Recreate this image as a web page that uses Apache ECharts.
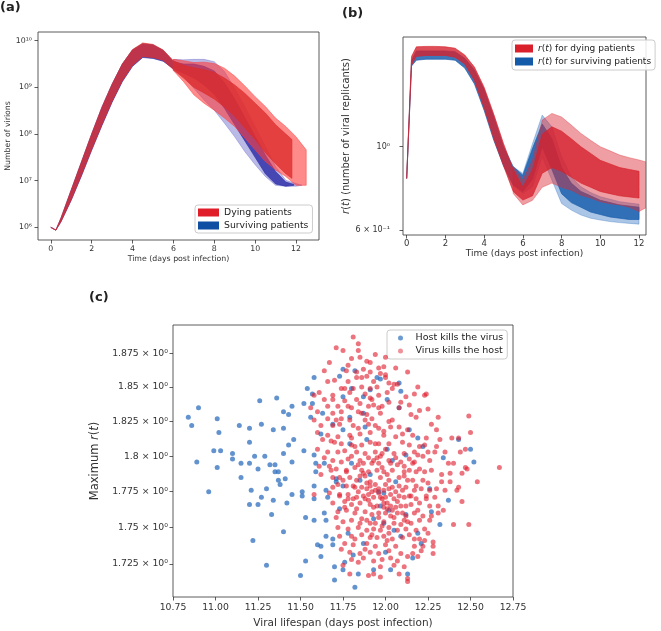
<!DOCTYPE html>
<html>
<head>
<meta charset="utf-8">
<script src="https://cdn.jsdelivr.net/npm/echarts@6/dist/echarts.min.js"></script>
<style>
  html, body { margin: 0; padding: 0; background: #fff; }
  #chart { width: 661px; height: 631px; }
</style>
</head>
<body>
<div id="chart"></div>
<script>
// ---- tick values ----
const dayTicks = [0, 2, 4, 6, 8, 10, 12];
const virionTicks = [1e6, 1e7, 1e8, 1e9, 1e10];
const replicantTicks = [0.6, 1];
const maxRTicks = [1.725, 1.75, 1.775, 1.8, 1.825, 1.85, 1.875];

// ---- panel (a): number of virions, envelopes ----
const aSurvCoreT = [0, 0.25, 0.5, 1, 1.5, 2, 2.5, 3, 3.5, 4, 4.5, 5, 5.5, 6, 6.5, 7, 7.5, 8, 8.5, 9, 9.5, 10, 10.5, 11, 11.5, 11.9];
const aSurvCoreHi = [1.0e6, 8.71e5, 1.58e6, 6.31e6, 2.51e7, 1.0e8, 3.72e8, 1.17e9, 3.16e9, 6.31e9, 8.51e9, 8.13e9, 6.17e9, 3.55e9, 3.16e9, 3.16e9, 2.82e9, 2.24e9, 1.26e9, 5.62e8, 2.24e8, 8.91e7, 3.55e7, 1.58e7, 9.33e6, 8.32e6];
const aSurvCoreLo = [1.0e6, 8.71e5, 1.32e6, 3.8e6, 1.26e7, 4.47e7, 1.51e8, 4.79e8, 1.32e9, 2.82e9, 4.37e9, 4.17e9, 3.63e9, 2.51e9, 2.0e9, 1.58e9, 1.12e9, 7.08e8, 3.55e8, 1.58e8, 7.08e7, 3.16e7, 1.41e7, 8.51e6, 7.59e6, 7.94e6];
const aSurvOuterT = [6, 6.5, 7, 7.5, 8, 8.5, 9, 9.5, 10, 10.5, 11, 11.5, 12, 12.3];
const aSurvOuterHi = [3.98e9, 3.89e9, 3.98e9, 3.98e9, 3.55e9, 2.19e9, 9.55e8, 3.89e8, 1.45e8, 5.37e7, 2.0e7, 1.02e7, 8.71e6, 7.94e6];
const aSurvOuterLo = [2.29e9, 1.7e9, 9.55e8, 5.37e8, 3.24e8, 1.7e8, 8.71e7, 4.17e7, 2.19e7, 1.23e7, 7.94e6, 7.59e6, 7.59e6, 7.94e6];

const aDyingCoreT = [0, 0.25, 0.5, 1, 1.5, 2, 2.5, 3, 3.5, 4, 4.5, 5, 5.5, 6, 6.5, 7, 7.5, 8, 8.5, 9, 9.5, 10, 10.5, 11, 11.5, 11.8];
const aDyingCoreHi = [1.0e6, 8.71e5, 1.58e6, 6.31e6, 2.51e7, 1.0e8, 3.72e8, 1.17e9, 3.16e9, 6.46e9, 8.91e9, 8.32e9, 6.31e9, 3.72e9, 2.95e9, 2.63e9, 2.4e9, 2.09e9, 1.58e9, 1.12e9, 7.41e8, 4.57e8, 2.82e8, 1.58e8, 1.0e8, 7.59e7];
const aDyingCoreLo = [1.0e6, 8.71e5, 1.32e6, 3.89e6, 1.32e7, 4.68e7, 1.58e8, 5.01e8, 1.38e9, 2.95e9, 4.57e9, 4.37e9, 3.8e9, 2.4e9, 1.58e9, 1.0e9, 7.59e8, 5.62e8, 3.8e8, 2.4e8, 1.35e8, 7.59e7, 3.98e7, 2.29e7, 1.41e7, 1.12e7];
const aDyingOuterT = [6, 6.5, 7, 7.5, 8, 8.5, 9, 9.5, 10, 10.5, 11, 11.5, 12, 12.5];
const aDyingOuterHi = [3.98e9, 3.72e9, 3.39e9, 3.47e9, 3.24e9, 2.57e9, 1.74e9, 1.07e9, 6.31e8, 3.89e8, 2.19e8, 1.45e8, 8.71e7, 4.57e7];
const aDyingOuterLo = [2.29e9, 1.32e9, 6.92e8, 4.57e8, 3.24e8, 2.19e8, 1.45e8, 8.13e7, 4.57e7, 2.57e7, 1.7e7, 1.23e7, 7.94e6, 7.94e6];

// ---- panel (b): r(t), envelopes ----
const bCoreT = [0, 0.25, 0.5, 1, 1.5, 2, 2.5, 3, 3.5, 4, 4.5, 5, 5.5, 6, 6.5, 7, 7.5, 8, 8.5, 9, 9.5, 10, 10.5, 11, 11.5, 12];
const bSurvCoreHi = [0.823, 1.70, 1.80, 1.80, 1.80, 1.80, 1.79, 1.72, 1.60, 1.42, 1.20, 1.00, 0.885, 0.84, 0.99, 1.15, 1.05, 0.88, 0.80, 0.76, 0.74, 0.72, 0.71, 0.70, 0.695, 0.69];
const bSurvCoreLo = [0.823, 1.64, 1.70, 1.71, 1.71, 1.71, 1.70, 1.62, 1.47, 1.25, 1.04, 0.89, 0.79, 0.76, 0.82, 1.00, 0.87, 0.75, 0.71, 0.69, 0.67, 0.66, 0.65, 0.645, 0.64, 0.64];
const bDyingCoreHi = [0.823, 1.74, 1.845, 1.85, 1.85, 1.845, 1.83, 1.755, 1.63, 1.44, 1.22, 1.02, 0.87, 0.782, 0.87, 1.08, 1.13, 1.10, 1.05, 1.00, 0.96, 0.92, 0.90, 0.88, 0.87, 0.86];
const bDyingCoreLo = [0.823, 1.65, 1.74, 1.75, 1.75, 1.75, 1.73, 1.66, 1.50, 1.27, 1.05, 0.89, 0.76, 0.721, 0.74, 0.85, 0.88, 0.86, 0.83, 0.80, 0.78, 0.76, 0.75, 0.74, 0.735, 0.73];
const bSurvOuterT = [5.5, 6, 6.5, 7, 7.5, 8, 8.5, 9, 9.5, 10, 10.5, 11, 11.5, 12];
const bSurvOuterHi = [0.885, 0.849, 1.02, 1.214, 1.13, 0.94, 0.832, 0.782, 0.755, 0.736, 0.725, 0.714, 0.708, 0.703];
const bSurvOuterLo = [0.79, 0.751, 0.782, 0.94, 0.815, 0.706, 0.678, 0.658, 0.645, 0.638, 0.632, 0.628, 0.625, 0.622];
const bDyingOuterT = [5.5, 6, 6.5, 7, 7.5, 8, 8.5, 9, 9.5, 10, 10.5, 11, 11.5, 12, 12.4];
const bDyingOuterHi = [0.885, 0.815, 0.922, 1.178, 1.227, 1.2, 1.142, 1.085, 1.04, 1.0, 0.975, 0.95, 0.935, 0.922, 0.91];
const bDyingOuterLo = [0.751, 0.70, 0.72, 0.78, 0.80, 0.78, 0.766, 0.743, 0.73, 0.714, 0.705, 0.70, 0.69, 0.672, 0.69];

// ---- panel (c): [viral lifespan, maximum r(t)] ----
const hostKillsVirus = [
  [10.84,1.828],[10.90,1.835],[10.86,1.822],[10.89,1.796],[10.96,1.775],[11.01,1.827],[11.02,1.817],[11.01,1.792],
  [10.99,1.804],[11.03,1.804],[11.10,1.802],[11.10,1.798],[11.14,1.822],[11.15,1.795],[11.15,1.785],[11.20,1.820],
  [11.20,1.810],[11.20,1.795],[11.21,1.776],[11.20,1.766],[11.22,1.741],[11.23,1.800],[11.25,1.791],[11.25,1.766],
  [11.26,1.840],[11.27,1.823],[11.27,1.771],[11.29,1.800],[11.30,1.777],[11.30,1.724],[11.32,1.794],[11.33,1.759],
  [11.34,1.819],[11.34,1.769],[11.35,1.794],[11.35,1.789],[11.36,1.842],[11.37,1.783],[11.37,1.789],[11.38,1.780],
  [11.40,1.802],[11.40,1.832],[11.40,1.820],[11.40,1.747],[11.41,1.784],[11.42,1.767],[11.43,1.830],[11.43,1.808],
  [11.45,1.836],[11.45,1.796],[11.45,1.773],[11.46,1.812],[11.50,1.717],[11.51,1.775],[11.51,1.772],[11.52,1.804],
  [11.53,1.727],[11.53,1.757],[11.52,1.838],[11.54,1.849],[11.56,1.828],[11.57,1.845],[11.57,1.838],[11.58,1.857],
  [11.58,1.801],[11.58,1.755],[11.59,1.795],[11.59,1.789],[11.58,1.770],[11.58,1.779],[11.60,1.738],[11.62,1.730],
  [11.62,1.737],[11.64,1.795],[11.64,1.760],[11.65,1.755],[11.65,1.744],[11.65,1.776],[11.66,1.771],[11.63,1.831],
  [11.62,1.816],[11.69,1.823],[11.69,1.742],[11.69,1.738],[11.70,1.723],[11.70,1.714],[11.71,1.784],[11.71,1.782],
  [11.73,1.858],[11.75,1.863],[11.75,1.843],[11.75,1.819],[11.75,1.721],[11.76,1.726],[11.78,1.746],[11.79,1.809],
  [11.79,1.828],[11.80,1.849],[11.81,1.731],[11.82,1.709],[11.82,1.862],[11.84,1.718],[11.85,1.783],[11.87,1.843],
  [11.87,1.831],[11.88,1.821],[11.89,1.812],[11.91,1.848],[11.93,1.721],[11.93,1.756],[11.95,1.857],[11.97,1.856],
  [11.96,1.775],[11.97,1.765],[12.00,1.733],[12.01,1.805],[12.01,1.841],[12.02,1.762],[12.03,1.721],[12.04,1.797],
  [12.08,1.835],[12.09,1.847],[12.08,1.853],[12.09,1.744],[12.12,1.759],[12.13,1.718],[12.12,1.801],[12.14,1.819],
  [12.16,1.729],[12.19,1.813],[12.19,1.746],[12.21,1.739],[12.26,1.777],[12.27,1.761],[12.32,1.752],[12.34,1.799],
  [12.37,1.769],[12.50,1.805],[12.52,1.796],[12.43,1.812],[12.22,1.807],[12.06,1.782],[11.99,1.774],[11.91,1.787],
  [11.80,1.795],[11.75,1.779],[11.73,1.763],[11.99,1.753],[11.87,1.739],[12.05,1.748]
];
const virusKillsHost = [
  [11.81,1.887],[11.84,1.882],[11.71,1.879],[11.75,1.877],[11.84,1.877],[11.80,1.871],[11.85,1.872],[11.89,1.869],
  [11.91,1.868],[12.00,1.872],[11.67,1.868],[11.99,1.865],[11.96,1.864],[11.64,1.862],[11.77,1.862],[11.83,1.861],
  [11.87,1.863],[11.91,1.861],[11.97,1.860],[12.00,1.859],[12.13,1.861],[11.66,1.854],[11.70,1.855],[11.78,1.854],
  [11.83,1.857],[11.89,1.858],[11.93,1.854],[12.02,1.853],[12.07,1.852],[12.00,1.857],[12.19,1.850],[11.74,1.849],
  [11.76,1.849],[11.81,1.849],[11.86,1.850],[11.91,1.849],[12.04,1.849],[11.58,1.844],[11.61,1.846],[11.69,1.844],
  [11.79,1.846],[11.88,1.845],[11.96,1.844],[12.01,1.846],[12.17,1.845],[12.23,1.844],[12.24,1.845],[11.64,1.841],
  [11.69,1.841],[11.76,1.840],[11.83,1.841],[11.92,1.841],[12.02,1.839],[12.09,1.839],[12.14,1.837],[11.66,1.836],
  [11.72,1.836],[11.80,1.835],[11.90,1.836],[11.93,1.837],[12.08,1.835],[12.25,1.834],[11.56,1.835],[11.60,1.832],
  [11.69,1.831],[11.74,1.832],[11.84,1.832],[11.86,1.831],[11.89,1.830],[11.97,1.831],[11.98,1.836],[12.15,1.830],
  [12.31,1.828],[12.49,1.829],[11.58,1.826],[11.66,1.827],[11.74,1.827],[11.79,1.826],[11.92,1.827],[12.02,1.825],
  [12.18,1.828],[11.62,1.822],[11.69,1.822],[11.73,1.823],[11.81,1.822],[11.90,1.823],[11.96,1.820],[12.03,1.821],
  [12.08,1.821],[12.13,1.819],[12.30,1.819],[12.50,1.817],[11.60,1.817],[11.66,1.815],[11.72,1.814],[11.79,1.815],
  [11.85,1.816],[11.91,1.817],[11.99,1.815],[12.06,1.814],[12.16,1.815],[12.24,1.813],[12.39,1.813],[12.43,1.813],
  [11.63,1.812],[11.68,1.811],[11.74,1.809],[11.80,1.808],[11.82,1.807],[11.86,1.808],[11.91,1.810],[11.96,1.809],
  [12.02,1.809],[12.10,1.810],[12.14,1.808],[12.20,1.807],[12.23,1.808],[12.30,1.807],[12.35,1.803],[12.44,1.803],
  [12.47,1.805],[11.60,1.805],[11.66,1.803],[11.72,1.803],[11.76,1.804],[11.83,1.803],[11.88,1.802],[11.94,1.803],
  [11.98,1.802],[12.05,1.802],[12.17,1.803],[12.19,1.801],[12.25,1.803],[12.29,1.803],[11.64,1.799],[11.69,1.797],
  [11.74,1.796],[11.78,1.798],[11.85,1.797],[11.90,1.799],[11.93,1.797],[11.96,1.795],[12.02,1.797],[12.09,1.796],
  [12.14,1.798],[12.17,1.796],[12.26,1.797],[12.37,1.795],[12.47,1.792],[12.48,1.791],[12.67,1.792],[11.61,1.793],
  [11.68,1.790],[11.71,1.791],[11.77,1.789],[11.82,1.792],[11.86,1.790],[11.90,1.789],[11.95,1.790],[11.99,1.789],
  [12.04,1.790],[12.11,1.789],[12.14,1.790],[12.18,1.789],[12.23,1.789],[11.62,1.787],[11.69,1.785],[11.73,1.785],
  [11.75,1.783],[11.79,1.785],[11.83,1.783],[11.88,1.786],[11.91,1.782],[11.97,1.785],[12.02,1.783],[12.08,1.785],
  [12.11,1.786],[12.16,1.783],[12.22,1.783],[12.25,1.781],[12.33,1.782],[12.38,1.782],[11.72,1.780],[11.77,1.779],
  [11.81,1.779],[11.86,1.778],[11.89,1.777],[11.92,1.775],[11.94,1.776],[11.96,1.774],[11.99,1.776],[12.04,1.778],
  [12.06,1.775],[12.10,1.776],[12.12,1.778],[12.17,1.776],[12.21,1.777],[12.26,1.776],[12.30,1.777],[12.43,1.778],
  [12.42,1.776],[11.58,1.773],[11.67,1.774],[11.73,1.772],[11.78,1.773],[11.83,1.771],[11.87,1.772],[11.90,1.773],
  [11.93,1.771],[11.98,1.770],[12.03,1.773],[12.08,1.772],[12.14,1.772],[12.18,1.770],[12.24,1.772],[12.29,1.771],
  [12.45,1.768],[11.69,1.767],[11.76,1.768],[11.80,1.766],[11.85,1.767],[11.91,1.766],[11.95,1.765],[11.99,1.764],
  [12.01,1.763],[12.04,1.762],[12.09,1.765],[12.15,1.766],[12.20,1.767],[12.26,1.765],[12.31,1.765],[12.34,1.762],
  [11.72,1.761],[11.77,1.762],[11.82,1.760],[11.88,1.761],[11.92,1.759],[11.96,1.760],[12.00,1.760],[12.03,1.758],
  [12.07,1.760],[12.12,1.758],[12.17,1.760],[12.22,1.758],[12.27,1.758],[11.75,1.754],[11.80,1.755],[11.85,1.753],
  [11.89,1.755],[11.94,1.753],[11.99,1.754],[12.05,1.753],[12.11,1.755],[12.15,1.753],[12.20,1.755],[12.23,1.749],
  [12.26,1.755],[12.40,1.752],[11.72,1.750],[11.78,1.749],[11.84,1.750],[11.89,1.748],[11.93,1.749],[11.97,1.748],
  [12.02,1.750],[12.07,1.748],[12.12,1.749],[12.18,1.748],[12.25,1.746],[11.73,1.744],[11.80,1.744],[11.86,1.745],
  [11.91,1.743],[11.95,1.743],[11.99,1.744],[12.04,1.742],[12.10,1.743],[12.17,1.742],[12.23,1.741],[12.28,1.740],
  [11.76,1.739],[11.81,1.738],[11.89,1.739],[11.94,1.737],[12.00,1.738],[12.06,1.737],[12.17,1.737],[12.22,1.737],
  [12.28,1.737],[11.79,1.733],[11.85,1.732],[11.91,1.733],[11.96,1.732],[12.02,1.734],[12.09,1.732],[12.16,1.732],
  [12.21,1.734],[12.28,1.732],[11.80,1.728],[11.87,1.729],[11.93,1.727],[11.98,1.728],[12.03,1.729],[12.07,1.727],
  [12.13,1.730],[11.75,1.724],[11.84,1.726],[11.97,1.723],[12.05,1.724],[12.11,1.723],[11.79,1.718],[11.90,1.717],
  [11.93,1.718],[11.97,1.716],[12.08,1.718],[12.13,1.715],[12.13,1.713],[12.19,1.730],[12.49,1.752],[12.54,1.782],
  [12.38,1.788],[12.33,1.787],[12.45,1.788],[11.89,1.781],[11.91,1.779],[11.94,1.780],[11.96,1.777],[12.00,1.780],
  [12.01,1.767],[12.03,1.765],[12.06,1.764],[11.99,1.767],[11.97,1.771],[11.90,1.769],[12.11,1.771],[12.07,1.768],
  [11.84,1.775],[11.81,1.770],[11.87,1.788],[11.84,1.794],[11.80,1.800],[11.97,1.800],[12.07,1.794],[12.11,1.793],
  [11.73,1.773],[11.76,1.764],[12.13,1.754],[11.91,1.753],[12.02,1.746],[12.09,1.752],
  [11.92,1.795],[11.95,1.799],[11.98,1.792],[12.01,1.787],[12.03,1.795],[12.06,1.799],[11.87,1.795],[11.85,1.786],
  [11.82,1.778],[11.88,1.770],[11.93,1.764],[11.96,1.757],[12.00,1.771],[12.02,1.777],[12.05,1.770],[12.08,1.779],
  [12.12,1.765],[12.15,1.772],[12.13,1.783],[12.18,1.779],[12.20,1.791],[12.16,1.795],[12.22,1.800],[12.27,1.790],
  [12.24,1.770],[12.19,1.762],[12.10,1.760],[12.05,1.757],[11.98,1.751],[11.92,1.745],[11.86,1.756],[11.83,1.763],
  [11.78,1.770],[11.77,1.790],[11.80,1.813],[11.84,1.820],[11.88,1.826],[11.94,1.822],[11.99,1.818],[12.04,1.826],
  [12.10,1.816],[12.11,1.802],[12.00,1.805],[11.94,1.809],[11.96,1.835],[11.91,1.842],[11.85,1.838],[11.78,1.836],
  [11.71,1.826],[11.70,1.810],[11.67,1.793],[11.69,1.778],[11.71,1.757],[11.74,1.735],[11.82,1.742],[11.88,1.735],
  [12.01,1.741],[12.14,1.745],[12.20,1.742],[12.31,1.760],[12.35,1.776],[12.40,1.795],[12.32,1.812],[12.27,1.823],
  [12.20,1.833],[12.12,1.843],[12.05,1.852],[11.95,1.850],[11.86,1.857],[11.78,1.866],[11.94,1.874],[12.06,1.864]
];

const SUP = {'0':'⁰','1':'¹','2':'²','3':'³','4':'⁴','5':'⁵','6':'⁶','7':'⁷','8':'⁸','9':'⁹','-':'⁻'};
function sup(n) { return String(n).split('').map(c => SUP[c]).join(''); }
function logLabel(v) {
  const e = Math.floor(Math.log10(v) + 1e-9);
  const m = Number((v / Math.pow(10, e)).toPrecision(4));
  return m === 1 ? '10' + sup(e) : m + ' × 10' + sup(e);
}

function band(name, gi, times, hi, lo, color, opacity, z) {
  return {
    type: 'custom', name: name, xAxisIndex: gi, yAxisIndex: gi, z: z, silent: true, clip: true,
    data: times.map((t, i) => [t, hi[i], lo[i]]),
    encode: { x: 0, y: [1, 2] },
    renderItem: function (params, api) {
      if (params.dataIndex !== 0) return null;
      const top = times.map((t, i) => api.coord([t, hi[i]]));
      const bot = times.map((t, i) => api.coord([t, lo[i]])).reverse();
      return {
        type: 'polygon',
        shape: { points: top.concat(bot) },
        style: { fill: color, stroke: color, lineWidth: 0.8, opacity: opacity }
      };
    }
  };
}

const tickStyle = { length: 3.5, lineStyle: { color: '#333', width: 0.8 } };
const axisCommon = {
  splitLine: { show: false },
  axisLine: { show: false, onZero: false }
};

const chart = echarts.init(document.getElementById('chart'), null, { renderer: 'canvas' });
chart.setOption({
  animation: false,
  backgroundColor: '#fff',
  textStyle: { fontFamily: 'DejaVu Sans', color: '#222' },
  title: [
    { text: '(a)', left: 0, top: 1, padding: 0, textStyle: { fontSize: 13, fontWeight: 'bold', color: '#222' } },
    { text: '(b)', left: 342, top: 7, padding: 0, textStyle: { fontSize: 13, fontWeight: 'bold', color: '#222' } },
    { text: '(c)', left: 89, top: 291, padding: 0, textStyle: { fontSize: 13, fontWeight: 'bold', color: '#222' } }
  ],
  grid: [
    { left: 38, top: 32, width: 281, height: 208, show: true, borderColor: '#333', borderWidth: 0.8 },
    { left: 403, top: 37, width: 243, height: 198, show: true, borderColor: '#333', borderWidth: 0.8 },
    { left: 173, top: 325, width: 340, height: 272, show: true, borderColor: '#333', borderWidth: 0.8 }
  ],
  xAxis: [
    Object.assign({}, axisCommon, {
      gridIndex: 0, type: 'value', min: -0.625, max: 13.125,
      axisLabel: { customValues: dayTicks, fontSize: 7.8, margin: 5, color: '#333' },
      axisTick: Object.assign({ customValues: dayTicks }, tickStyle),
      name: 'Time (days post infection)', nameLocation: 'middle', nameGap: 15,
      nameTextStyle: { fontSize: 7.8, color: '#333' }
    }),
    Object.assign({}, axisCommon, {
      gridIndex: 1, type: 'value', min: -0.19, max: 12.36,
      axisLabel: { customValues: dayTicks, fontSize: 8.5, margin: 4, color: '#333' },
      axisTick: Object.assign({ customValues: dayTicks }, tickStyle),
      name: 'Time (days post infection)', nameLocation: 'middle', nameGap: 14,
      nameTextStyle: { fontSize: 9, color: '#333' }
    }),
    Object.assign({}, axisCommon, {
      gridIndex: 2, type: 'value', min: 10.75, max: 12.75, interval: 0.25,
      axisLabel: { fontSize: 9.3, margin: 6, color: '#333', interval: 0, formatter: v => v.toFixed(2) },
      axisTick: tickStyle,
      name: 'Viral lifespan (days post infection)', nameLocation: 'middle', nameGap: 21,
      nameTextStyle: { fontSize: 10.5, color: '#333' }
    })
  ],
  yAxis: [
    Object.assign({}, axisCommon, {
      gridIndex: 0, type: 'log', logBase: 10, min: 5.35e5, max: 1.535e10,
      axisLabel: { customValues: virionTicks, fontSize: 7.8, margin: 6, color: '#333', formatter: logLabel },
      axisTick: Object.assign({ customValues: virionTicks }, tickStyle),
      name: 'Number of virions', nameLocation: 'middle', nameGap: 26,
      nameTextStyle: { fontSize: 7.8, color: '#333' }
    }),
    Object.assign({}, axisCommon, {
      gridIndex: 1, type: 'log', logBase: 10, min: 0.582, max: 1.96,
      axisLabel: { customValues: replicantTicks, fontSize: 8, margin: 13, color: '#333', formatter: logLabel },
      axisTick: Object.assign({ customValues: replicantTicks }, tickStyle),
      name: '{i|r}({i|t}) (number of viral replicants)', nameLocation: 'middle', nameGap: 47,
      nameTextStyle: { fontSize: 10, color: '#333', rich: { i: { fontStyle: 'italic', fontSize: 10, color: '#333', fontFamily: 'DejaVu Sans' } } }
    }),
    Object.assign({}, axisCommon, {
      gridIndex: 2, type: 'log', logBase: 10, min: 1.7025, max: 1.896,
      axisLabel: { customValues: maxRTicks, fontSize: 9.3, margin: 5, color: '#333', formatter: logLabel },
      axisTick: Object.assign({ customValues: maxRTicks }, tickStyle),
      name: 'Maximum {i|r}({i|t})', nameLocation: 'middle', nameGap: 62,
      nameTextStyle: { fontSize: 11.5, color: '#333', rich: { i: { fontStyle: 'italic', fontSize: 11.5, color: '#333', fontFamily: 'DejaVu Sans' } } }
    })
  ],
  legend: [
    {
      left: 195, top: 205, orient: 'vertical', padding: [3, 4, 3, 3], itemWidth: 21, itemHeight: 8, itemGap: 4,
      icon: 'rect', selectedMode: false, borderColor: '#ccc', borderWidth: 1, borderRadius: 3,
      backgroundColor: 'rgba(255,255,255,0.85)',
      textStyle: { fontSize: 9.3, color: '#222' },
      data: [
        { name: 'Dying patients', itemStyle: { color: '#e01e2a' } },
        { name: 'Surviving patients', itemStyle: { color: '#0f4fa3' } }
      ]
    },
    {
      left: 512, top: 40, orient: 'vertical', padding: [4, 4, 4, 3], itemWidth: 18, itemHeight: 8, itemGap: 4,
      icon: 'rect', selectedMode: false, borderColor: '#ccc', borderWidth: 1, borderRadius: 3,
      backgroundColor: 'rgba(255,255,255,0.85)',
      textStyle: { fontSize: 9, color: '#222', rich: { i: { fontStyle: 'italic', fontSize: 9, color: '#222', fontFamily: 'DejaVu Sans' } } },
      formatter: name => '{i|r}({i|t})' + name.slice(4),
      data: [
        { name: 'r(t) for dying patients', itemStyle: { color: '#d9202b' } },
        { name: 'r(t) for surviving patients', itemStyle: { color: '#135aa8' } }
      ]
    },
    {
      left: 387, top: 330, orient: 'vertical', padding: [3, 4, 3, 11], itemWidth: 20, itemHeight: 5, itemGap: 3,
      icon: 'circle', selectedMode: false, borderColor: '#ccc', borderWidth: 1, borderRadius: 3,
      backgroundColor: 'rgba(255,255,255,0.85)',
      textStyle: { fontSize: 9.5, color: '#222' },
      data: [
        { name: 'Host kills the virus', itemStyle: { color: '#3b78c2' } },
        { name: 'Virus kills the host', itemStyle: { color: '#e4505c' } }
      ]
    }
  ],
  series: [
    // panel (a)
    band('Surviving patients', 0, aSurvOuterT, aSurvOuterHi, aSurvOuterLo, '#3a3ab8', 0.35, 1),
    band('Surviving patients', 0, aSurvCoreT, aSurvCoreHi, aSurvCoreLo, '#2a2aa8', 0.8, 2),
    band('Dying patients', 0, aDyingOuterT, aDyingOuterHi, aDyingOuterLo, '#ff3c3c', 0.6, 3),
    band('Dying patients', 0, aDyingCoreT, aDyingCoreHi, aDyingCoreLo, '#dc2c2c', 0.78, 4),
    // panel (b)
    band('r(t) for surviving patients', 1, bSurvOuterT, bSurvOuterHi, bSurvOuterLo, '#2a6fbf', 0.4, 1),
    band('r(t) for surviving patients', 1, bCoreT, bSurvCoreHi, bSurvCoreLo, '#1c5fae', 0.85, 2),
    band('r(t) for dying patients', 1, bDyingOuterT, bDyingOuterHi, bDyingOuterLo, '#dc2a34', 0.45, 3),
    band('r(t) for dying patients', 1, bCoreT, bDyingCoreHi, bDyingCoreLo, '#d6222e', 0.8, 4),
    // panel (c)
    {
      type: 'scatter', name: 'Host kills the virus', xAxisIndex: 2, yAxisIndex: 2, z: 5,
      symbolSize: 5, data: hostKillsVirus,
      itemStyle: { color: '#2f6fbe', opacity: 0.75 }
    },
    {
      type: 'scatter', name: 'Virus kills the host', xAxisIndex: 2, yAxisIndex: 2, z: 6,
      symbolSize: 5, data: virusKillsHost,
      itemStyle: { color: '#e01f2e', opacity: 0.62 }
    }
  ]
});
</script>
</body>
</html>
